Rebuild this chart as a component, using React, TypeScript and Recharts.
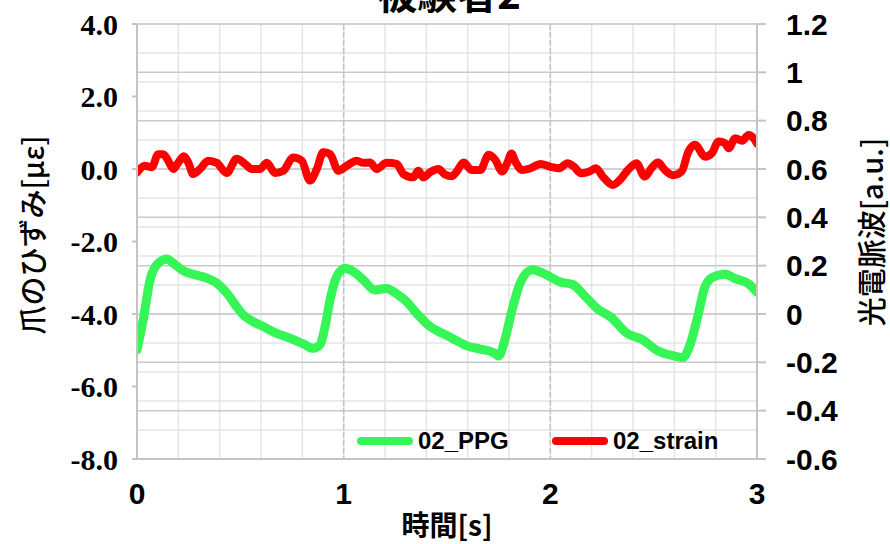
import React from "react";
import { LineChart, Line, XAxis, YAxis, CartesianGrid, Label } from "recharts";

// 02_strain (left axis, με)
const strainTime = [
  0, 0.039, 0.071, 0.103, 0.127, 0.151, 0.176, 0.2, 0.227, 0.248, 0.272, 0.305,
  0.345, 0.386, 0.434, 0.482, 0.523, 0.555, 0.595, 0.628, 0.668, 0.708, 0.756,
  0.797, 0.837, 0.87, 0.901, 0.934, 0.974, 1.015, 1.063, 1.095, 1.127, 1.16,
  1.208, 1.257, 1.289, 1.337, 1.361, 1.385, 1.418, 1.458, 1.49, 1.524, 1.547,
  1.58, 1.62, 1.661, 1.702, 1.734, 1.767, 1.791, 1.812, 1.831, 1.864, 1.904,
  1.953, 2.002, 2.042, 2.083, 2.115, 2.148, 2.189, 2.221, 2.254, 2.302, 2.343,
  2.375, 2.416, 2.457, 2.489, 2.521, 2.554, 2.594, 2.635, 2.668, 2.7, 2.749,
  2.781, 2.814, 2.846, 2.863, 2.895, 2.928, 2.959, 2.984, 3.0,
];
const strainValues = [
  -0.1, 0.09, 0.05, 0.41, 0.41, 0.23, 0.0, 0.18, 0.35, 0.18, -0.14, 0.0,
  0.23, 0.17, -0.11, 0.28, 0.14, 0.0, 0.0, 0.17, -0.11, -0.05, 0.32,
  0.23, -0.32, 0.0, 0.46, 0.41, -0.05, 0.09, 0.23, 0.17, 0.18, 0.0,
  0.17, 0.14, -0.14, -0.23, -0.05, -0.23, -0.09, 0.0, -0.15, -0.2, -0.07,
  0.18, -0.03, -0.03, 0.39, 0.25, -0.07, 0.16, 0.43, 0.2, -0.03, 0.02,
  0.14, 0.06, 0.02, 0.16, 0.06, -0.12, -0.07, 0.02, -0.21, -0.44, -0.26,
  -0.03, 0.16, -0.21, 0.02, 0.18, -0.03, -0.17, -0.07, 0.48, 0.67, 0.34,
  0.43, 0.76, 0.71, 0.57, 0.85, 0.78, 0.94, 0.85, 0.7,
];

// 02_PPG (right axis, a.u.)
const ppgTime = [
  0, 0.03, 0.063, 0.095, 0.144, 0.176, 0.224, 0.289, 0.337, 0.386, 0.434, 0.482,
  0.514, 0.563, 0.611, 0.676, 0.74, 0.805, 0.853, 0.885, 0.91, 0.934, 0.966,
  1.006, 1.047, 1.095, 1.152, 1.208, 1.257, 1.305, 1.353, 1.418, 1.49, 1.531,
  1.596, 1.661, 1.726, 1.75, 1.783, 1.814, 1.856, 1.913, 1.969, 2.051, 2.108,
  2.164, 2.229, 2.294, 2.376, 2.44, 2.521, 2.603, 2.642, 2.671, 2.716, 2.748,
  2.787, 2.846, 2.895, 2.96, 3.0,
];
const ppgValues = [
  -0.149, -0.025, 0.14, 0.203, 0.228, 0.21, 0.179, 0.161, 0.149, 0.128, 0.087, 0.03,
  -0.004, -0.032, -0.052, -0.08, -0.1, -0.124, -0.142, -0.128, -0.052, 0.058, 0.154,
  0.189, 0.175, 0.141, 0.099, 0.106, 0.083, 0.051, 0.003, -0.052, -0.085, -0.103,
  -0.132, -0.145, -0.16, -0.174, -0.097, 0.014, 0.132, 0.183, 0.167, 0.132, 0.122,
  0.077, 0.021, -0.014, -0.083, -0.103, -0.153, -0.174, -0.18, -0.139, 0.0, 0.112,
  0.153, 0.164, 0.146, 0.125, 0.09,
];

const xTicks = [0, 1, 2, 3];
const leftTicks = [-8, -6, -4, -2, 0, 2, 4];
const rightTicks = [-0.6, -0.4, -0.2, 0, 0.2, 0.4, 0.6, 0.8, 1, 1.2];
// minor gridlines: every 0.2 s and every 0.04 on the right axis
const minorXValues = Array.from({ length: 16 }, (_, i) => Math.round(i * 2) / 10);
const minorYValues = Array.from({ length: 46 }, (_, i) => Math.round((-0.6 + i * 0.04) * 100) / 100);

const strainData = strainTime.map((t, i) => ({ t, v: strainValues[i] }));
const ppgData = ppgTime.map((t, i) => ({ t, v: ppgValues[i] }));

const GREEN = "#35f557";
const RED = "#ff0000";
const SANS = "'Liberation Sans', Arial, sans-serif";
const SERIF = "'Liberation Serif', 'Times New Roman', serif";
const CJK = "'Noto Sans CJK JP', 'Noto Sans', sans-serif";

function LegendItem({ color, name }: { color: string; name: string }) {
  return (
    <div style={{ display: "flex", alignItems: "center" }}>
      <span style={{ width: 56, height: 8, borderRadius: 4, background: color, marginRight: 5 }} />
      <span style={{ fontFamily: SANS, fontWeight: 700, fontSize: 24, lineHeight: "24px", color: "#000" }}>{name}</span>
    </div>
  );
}

export default function App() {
  return (
    <div style={{ position: "absolute", left: 0, top: 0, width: 890, height: 544, background: "#fff", overflow: "hidden" }}>
      <div
        style={{
          position: "absolute",
          top: -28,
          left: 0,
          width: 890,
          textAlign: "center",
          fontFamily: CJK,
          fontWeight: 700,
          fontSize: 40,
          lineHeight: "40px",
          color: "#000",
          paddingLeft: 4,
        }}
      >
        被験者2
      </div>
      <LineChart width={890} height={544} margin={{ top: 24, right: 0, bottom: 0, left: 0 }}>
        <CartesianGrid
          xAxisId="main"
          yAxisId="right"
          horizontalValues={minorYValues}
          verticalValues={minorXValues}
          stroke="#e4e4e4"
          strokeWidth={1.5}
        />
        <CartesianGrid
          xAxisId="main"
          yAxisId="right"
          vertical={false}
          horizontalValues={rightTicks}
          stroke="#c9c9c9"
          strokeWidth={1.5}
        />
        <CartesianGrid
          xAxisId="main"
          yAxisId="right"
          horizontal={false}
          verticalValues={xTicks}
          stroke="#c4c4c4"
          strokeWidth={1.5}
          strokeDasharray="6 2"
        />
        <XAxis
          xAxisId="main"
          dataKey="t"
          type="number"
          domain={[0, 3]}
          ticks={xTicks}
          allowDataOverflow
          height={85}
          tickLine={false}
          tickSize={0}
          tickMargin={24}
          axisLine={{ stroke: "#c4c4c4", strokeWidth: 2 }}
          tick={{ fill: "#000", fontFamily: SANS, fontWeight: 700, fontSize: 30 }}
        >
          <Label
            content={() => (
              <text x={447} y={536} textAnchor="middle" fontFamily={CJK} fontWeight={700} fontSize={28} fill="#000">
                時間[s]
              </text>
            )}
          />
        </XAxis>
        <YAxis
          yAxisId="left"
          type="number"
          domain={[-8, 4]}
          ticks={leftTicks}
          allowDataOverflow
          width={137}
          tickSize={5}
          tickMargin={14}
          tickFormatter={(v: number) => v.toFixed(1)}
          axisLine={{ stroke: "#c4c4c4", strokeWidth: 2 }}
          tickLine={{ stroke: "#c4c4c4", strokeWidth: 2 }}
          tick={{ fill: "#000", fontFamily: SERIF, fontWeight: 700, fontSize: 30 }}
        >
          <Label
            content={() => (
              <text
                x={31}
                y={235}
                transform="rotate(-90 31 235)"
                textAnchor="middle"
                dominantBaseline="central"
                fontFamily={CJK}
                fontWeight={500}
                fontSize={29}
                fill="#000"
              >
                爪のひずみ[με]
              </text>
            )}
          />
        </YAxis>
        <YAxis
          yAxisId="right"
          orientation="right"
          type="number"
          domain={[-0.6, 1.2]}
          ticks={rightTicks}
          allowDataOverflow
          width={133}
          tickSize={9}
          tickMargin={20}
          tickFormatter={(v: number) => String(Math.round(v * 10) / 10)}
          axisLine={{ stroke: "#c4c4c4", strokeWidth: 2 }}
          tickLine={{ stroke: "#c4c4c4", strokeWidth: 2 }}
          tick={{ fill: "#000", fontFamily: SANS, fontWeight: 700, fontSize: 30 }}
        >
          <Label
            content={() => (
              <text
                x={870}
                y={232}
                transform="rotate(-90 870 232)"
                textAnchor="middle"
                dominantBaseline="central"
                fontFamily={CJK}
                fontWeight={500}
                fontSize={29}
                fill="#000"
              >
                光電脈波[a.u.]
              </text>
            )}
          />
        </YAxis>
        <Line
          data={ppgData}
          dataKey="v"
          name="02_PPG"
          xAxisId="main"
          yAxisId="right"
          type="monotone"
          stroke={GREEN}
          strokeWidth={9}
          strokeLinecap="round"
          strokeLinejoin="round"
          dot={false}
          isAnimationActive={false}
        />
        <Line
          data={strainData}
          dataKey="v"
          name="02_strain"
          xAxisId="main"
          yAxisId="left"
          type="monotone"
          stroke={RED}
          strokeWidth={8}
          strokeLinecap="round"
          strokeLinejoin="round"
          dot={false}
          isAnimationActive={false}
        />
      </LineChart>
      <div style={{ position: "absolute", top: 429, left: 357 }}>
        <LegendItem color={GREEN} name="02_PPG" />
      </div>
      <div style={{ position: "absolute", top: 429, left: 552 }}>
        <LegendItem color={RED} name="02_strain" />
      </div>
    </div>
  );
}
